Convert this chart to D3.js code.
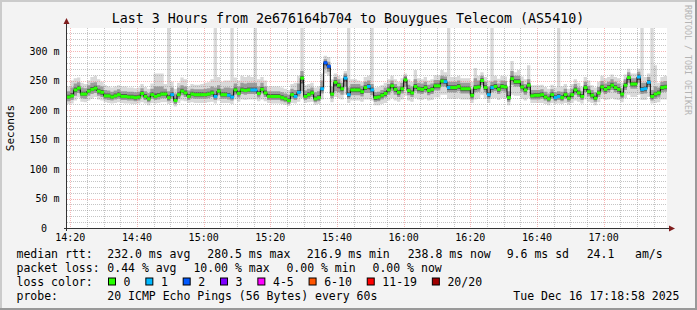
<!DOCTYPE html>
<html>
<head>
<meta charset="utf-8">
<script src="https://cdn.jsdelivr.net/npm/d3@7"></script>
<style>
body { margin: 0; background: #fff; }
text { font-family: "DejaVu Sans Mono", monospace; }
</style>
</head>
<body>
<script>
var width = 697, height = 310;

// one sample per minute, 14:19 .. 17:19
var startTime = new Date(2025, 11, 16, 14, 19, 0);
var median = [222,224,234,237,227,227,232,235,237,232,
 230,224,224,222,224,226,223,223,222,222,
 221,222,228,223,219,226,223,225,227,227,
 221,226,216,226,232,229,223,227,226,226,
 226,226,227,229,223,232,226,226,225,222,
 234,228,234,233,234,234,234,228,235,229,
 223,223,223,223,221,219,216,226,223,230,
 254,223,226,229,219,221,236,280,274,227,
 247,242,236,254,226,234,234,234,231,238,
 240,234,221,222,225,228,234,241,235,230,
 236,251,233,229,240,236,235,238,233,235,
 241,241,249,248,238,238,238,240,236,236,
 236,225,238,239,250,238,226,238,240,235,
 240,239,221,253,248,248,239,234,242,224,
 225,225,226,222,219,226,221,223,221,226,
 220,226,234,229,223,238,231,225,220,229,
 239,235,238,242,238,235,227,242,255,244,
 244,256,235,236,247,223,227,229,238,239];
var loss = [0,0,0,0,0,0,0,0,0,0,
 0,0,0,0,0,0,0,0,0,0,
 0,0,0,0,0,0,0,0,0,0,
 0,1,0,0,0,0,0,0,0,0,
 0,0,0,0,1,0,0,0,1,1,
 0,0,0,0,0,1,1,0,0,0,
 0,0,0,0,0,0,0,0,1,1,
 0,0,0,0,0,0,1,2,2,0,
 0,0,0,1,1,0,0,0,0,0,
 1,1,0,0,0,0,0,0,0,0,
 0,0,0,0,0,0,0,0,0,0,
 0,0,0,1,1,0,0,0,0,0,
 0,0,0,0,0,0,1,1,0,0,
 0,0,0,0,0,0,0,0,0,0,
 0,0,0,0,0,0,1,1,0,0,
 0,0,0,0,0,0,0,0,0,0,
 0,0,0,0,0,0,0,0,0,0,
 0,1,1,1,1,0,0,0,0,0];
var pingMin = [210,211,216,221,214,213,216,219,222,218,
 216,213,212,211,212,213,212,211,211,210,
 210,211,213,211,208,212,211,212,213,213,
 210,212,206,212,216,215,212,213,212,212,
 212,212,213,214,211,216,212,212,212,210,
 218,214,218,217,218,218,218,215,218,215,
 212,211,211,211,210,209,207,212,211,214,
 220,212,213,214,209,210,218,262,258,213,
 222,220,218,226,212,216,216,216,214,218,
 218,216,208,208,210,212,216,220,216,214,
 218,224,216,214,220,218,217,219,216,217,
 221,221,226,226,219,219,219,220,218,218,
 218,212,218,219,226,219,212,219,220,217,
 220,219,208,226,224,224,219,216,220,212,
 212,212,212,210,208,212,210,211,210,212,
 209,212,216,214,211,218,214,212,208,213,
 219,217,218,220,218,217,213,220,226,222,
 222,226,217,217,222,211,212,213,218,218];
var pingP10 = [215,217,224,229,220,219,224,227,229,224,
 222,218,217,216,218,219,217,217,216,216,
 215,216,221,217,213,219,217,218,220,220,
 215,219,210,219,225,222,217,220,219,219,
 219,219,220,222,217,225,219,219,218,216,
 226,221,227,226,227,227,227,221,228,222,
 217,217,217,217,215,213,210,219,217,223,
 232,217,219,222,213,215,228,270,265,220,
 232,230,226,240,219,225,225,225,223,229,
 229,225,214,215,218,221,226,232,226,222,
 228,240,225,222,232,228,227,230,225,227,
 233,233,240,240,230,230,230,232,228,228,
 228,218,230,231,242,230,219,230,232,227,
 232,231,214,243,240,240,231,226,234,218,
 218,218,219,216,213,219,215,217,215,219,
 214,219,226,222,217,230,223,218,214,222,
 231,227,230,234,230,227,220,234,246,236,
 236,246,227,228,239,216,219,221,230,231];
var pingP25 = [219,221,230,233,224,224,229,232,233,228,
 226,221,221,219,221,223,220,220,219,219,
 218,219,225,220,216,223,220,222,224,224,
 218,223,213,223,229,226,220,224,223,223,
 223,223,224,226,220,229,223,223,222,219,
 230,225,231,230,231,231,231,225,232,226,
 220,220,220,220,218,216,213,223,220,227,
 245,220,223,226,216,218,232,276,270,224,
 240,237,232,248,222,230,230,230,227,234,
 235,230,217,218,221,224,230,237,231,226,
 232,246,229,226,236,232,231,234,229,231,
 237,237,245,244,234,234,234,236,232,232,
 232,221,234,235,246,234,222,234,236,231,
 236,235,217,249,244,244,235,230,238,221,
 221,221,222,219,216,222,218,220,218,222,
 217,222,230,226,220,234,227,221,217,226,
 235,231,234,238,234,231,223,238,251,240,
 240,251,231,232,243,219,223,225,234,235];
var pingP75 = [226,229,238,241,231,231,236,239,241,236,
 234,228,228,226,228,230,227,227,226,226,
 225,226,232,227,223,230,228,229,231,231,
 225,230,220,230,236,233,227,231,230,230,
 230,230,231,233,227,236,230,230,229,226,
 238,232,238,237,238,238,238,232,239,233,
 227,227,227,227,225,223,220,230,227,234,
 258,227,230,233,223,225,240,283,277,231,
 251,246,240,258,230,238,238,238,235,242,
 244,238,225,226,229,232,238,245,239,234,
 240,255,237,233,244,240,239,242,237,239,
 245,245,253,252,242,242,242,244,240,240,
 240,229,242,243,254,242,230,242,244,239,
 244,243,225,258,252,252,243,238,246,228,
 229,229,230,226,223,230,225,227,225,230,
 224,230,238,233,227,242,235,229,224,233,
 243,239,242,246,242,239,231,246,259,248,
 248,260,239,240,251,227,231,233,242,243];
var pingP90 = [232,238,245,247,238,237,242,246,247,242,
 240,234,233,231,233,235,232,232,231,231,
 230,231,237,232,229,236,240,240,240,236,
 232,238,228,238,242,240,233,236,235,235,
 235,236,237,240,238,242,236,238,238,237,
 245,240,246,245,246,246,246,240,246,240,
 232,232,232,232,230,228,226,236,234,245,
 266,233,236,238,230,232,250,286,282,240,
 256,252,246,262,238,244,244,244,241,248,
 250,244,230,231,234,238,244,250,244,240,
 246,258,243,240,252,246,245,248,243,245,
 251,251,258,257,248,248,248,250,246,246,
 246,236,254,250,258,248,240,248,250,245,
 250,249,232,266,258,258,249,244,252,234,
 234,234,235,231,228,235,230,232,231,236,
 229,236,244,238,232,248,241,234,230,239,
 249,245,248,252,248,245,237,252,264,254,
 254,265,246,246,256,234,240,238,248,249];
var pingMax = [240,250,254,255,246,244,250,256,258,252,
 248,242,240,238,240,242,240,240,238,238,
 237,238,244,239,236,245,262,262,262,244,
 345,248,236,246,255,252,240,244,243,243,
 244,246,247,252,345,256,248,250,250,345,
 255,250,258,256,258,256,345,252,256,250,
 240,240,240,240,238,236,234,244,246,258,
 345,242,244,246,238,240,262,292,290,252,
 262,258,254,266,345,252,252,250,248,256,
 258,345,238,239,242,246,252,258,252,248,
 254,262,252,248,268,254,252,256,250,252,
 259,259,268,264,345,256,256,258,254,254,
 254,248,271,258,264,256,250,345,258,253,
 258,257,240,283,264,268,257,252,276,242,
 242,242,243,239,236,243,238,345,240,244,
 236,244,252,246,240,256,250,242,238,248,
 258,254,256,260,256,254,246,260,270,262,
 262,270,345,256,262,345,276,246,256,258];

var yTicks = [0, 50, 100, 150, 200, 250, 300];
var xTickLabels = ["14:20","14:40","15:00","15:20","15:40","16:00","16:20","16:40","17:00"];
var lossLabels = ["0","1","2","3","4-5","6-10","11-19","20/20"];
var lossColors = ["#26ff00","#00b8ff","#0059ff","#7e00ff","#ff00ff","#ff5500","#ff0000","#a00000"];
var rttStats = ["232.0 ms avg","280.5 ms max","216.9 ms min","238.8 ms now","9.6 ms sd","24.1","am/s"];
var lossStats = ["0.44 % avg","10.00 % max","0.00 % min","0.00 % now"];
var title = "Last 3 Hours from 2e676164b704 to Bouygues Telecom (AS5410)";
var probeText = "20 ICMP Echo Pings (56 Bytes) every 60s";
var dateText = "Tue Dec 16 17:18:58 2025";

var plotL = 67, plotR = 667, plotT = 28, plotB = 228;
var n = median.length;
var endTime = d3.timeMinute.offset(startTime, n);
var timeOf = function(i){ return d3.timeMinute.offset(startTime, i); };

var x = d3.scaleTime().domain([startTime, endTime]).range([plotL, plotR]);
var y = d3.scaleLinear().domain([0, 339]).range([plotB, plotT]);

var svg = d3.select("body").append("svg")
    .attr("width", width).attr("height", height);

// background + 3d border
svg.append("rect").attr("width", width).attr("height", height).attr("fill", "#f3f3f3");
svg.append("path").attr("d", "M0,0H697V2H2V310H0Z").attr("fill", "#cbcbcb");
svg.append("path").attr("d", "M697,0V310H0V308H695V0Z").attr("fill", "#999999");
svg.append("rect").attr("x", plotL).attr("y", plotT).attr("width", plotR - plotL).attr("height", plotB - plotT).attr("fill", "#fff");

svg.append("clipPath").attr("id", "plot").append("rect")
    .attr("x", plotL).attr("y", plotT).attr("width", plotR - plotL).attr("height", plotB - plotT);

var g = svg.append("g").attr("clip-path", "url(#plot)");

// step index list, last step closed at the end time
var steps = d3.range(n + 1);
function band(lo, hi) {
  return d3.area().curve(d3.curveStepAfter)
    .x(function(i){ return x(timeOf(i)); })
    .y0(function(i){ return y(lo[Math.min(i, n - 1)]); })
    .y1(function(i){ return y(hi[Math.min(i, n - 1)]); });
}
g.append("path").attr("d", band(pingMin, pingMax)(steps)).attr("fill", "#d9d9d9");
g.append("path").attr("d", band(pingP10, pingP90)(steps)).attr("fill", "#9c9c9c");
g.append("path").attr("d", band(pingP25, pingP75)(steps)).attr("fill", "#555555");

// grid (dotted, drawn over the smoke)
var minorV = d3.timeMinute.every(5).range(startTime, endTime);
var minorH = d3.range(10, 340, 10);
g.selectAll(".gv").data(minorV).enter().append("line")
    .attr("x1", function(d){ return Math.round(x(d)) + 0.5; })
    .attr("x2", function(d){ return Math.round(x(d)) + 0.5; })
    .attr("y1", plotT).attr("y2", plotB)
    .attr("stroke", function(d){ return d.getMinutes() % 20 === 0 ? "rgba(240,110,110,0.5)" : "rgba(140,140,140,0.5)"; })
    .attr("stroke-dasharray", "1,1");
g.selectAll(".gh").data(minorH).enter().append("line")
    .attr("x1", plotL).attr("x2", plotR)
    .attr("y1", function(d){ return Math.round(y(d)) + 0.5; })
    .attr("y2", function(d){ return Math.round(y(d)) + 0.5; })
    .attr("stroke", function(d){ return d % 50 === 0 ? "rgba(240,110,110,0.5)" : "rgba(140,140,140,0.5)"; })
    .attr("stroke-dasharray", "1,1");

// median line and loss coloured marks
var line = d3.line().curve(d3.curveStepAfter)
    .x(function(i){ return x(timeOf(i)); })
    .y(function(i){ return y(median[Math.min(i, n - 1)]); });
g.append("path").attr("d", line(steps)).attr("fill", "none").attr("stroke", "#000").attr("stroke-width", 1);
g.selectAll(".med").data(median).enter().append("rect")
    .attr("x", function(d, i){ return x(timeOf(i)); })
    .attr("width", function(d, i){ return x(timeOf(i + 1)) - x(timeOf(i)) + 0.4; })
    .attr("y", function(d){ return y(d) - 1.5; })
    .attr("height", 3)
    .attr("fill", function(d, i){ return lossColors[loss[i]]; });

// axes
svg.append("line").attr("x1", plotL - 0.5).attr("x2", plotL - 0.5).attr("y1", plotB + 3).attr("y2", 22).attr("stroke", "#333");
svg.append("line").attr("x1", plotL - 3).attr("x2", 670).attr("y1", plotB + 0.5).attr("y2", plotB + 0.5).attr("stroke", "#333");
svg.append("path").attr("d", "M63.5,24L66.5,18L69.5,24Z").attr("fill", "#7f1d1d");
svg.append("path").attr("d", "M669,225.5L675,228.5L669,231.5Z").attr("fill", "#7f1d1d");

svg.selectAll(".yl").data(yTicks).enter().append("text")
    .attr("x", function(d){ return d === 0 ? 47 : 59.5; })
    .attr("y", function(d){ return y(d) + 3.5; })
    .attr("text-anchor", "end").attr("font-size", "10px")
    .text(function(d){ return d === 0 ? "0" : d + " m"; });

var xTickTimes = d3.timeMinute.every(20).range(startTime, endTime);
svg.selectAll(".xl").data(xTickLabels).enter().append("text")
    .attr("x", function(d, i){ return x(xTickTimes[i]); })
    .attr("y", 241)
    .attr("text-anchor", "middle").attr("font-size", "10px")
    .text(function(d){ return d; });

// title, unit, watermark
svg.append("text").attr("x", 348).attr("y", 23).attr("text-anchor", "middle")
    .attr("font-size", "13.3px").text(title);
svg.append("text").attr("transform", "translate(14,128) rotate(-90)").attr("text-anchor", "middle")
    .attr("font-size", "11px").text("Seconds");
svg.append("text").attr("transform", "translate(685,5) rotate(90)")
    .attr("font-size", "8.3px").attr("fill", "#b4b4b4").text("RRDTOOL / TOBI OETIKER");

// legend
var fs = "11.5px";
var rttX = [107.3, 207.3, 306.7, 407.7, 506.7, 586.7, 635];
var lossX = [107.3, 193.4, 286.4, 372.5];
var rows = [257.5, 271.5, 285.5, 299.5];
var leg = svg.append("g").attr("font-size", fs);
leg.append("text").attr("x", 16.5).attr("y", rows[0]).text("median rtt:");
leg.selectAll(".r").data(rttStats).enter().append("text")
    .attr("x", function(d, i){ return rttX[i]; }).attr("y", rows[0]).text(function(d){ return d; });
leg.append("text").attr("x", 16.5).attr("y", rows[1]).text("packet loss:");
leg.selectAll(".p").data(lossStats).enter().append("text")
    .attr("x", function(d, i){ return lossX[i]; }).attr("y", rows[1]).text(function(d){ return d; });
leg.append("text").attr("x", 16.5).attr("y", rows[2]).text("loss color:");
var cx = 108;
lossLabels.forEach(function(lab, i) {
  leg.append("rect").attr("x", cx + 0.5).attr("y", rows[2] - 7.5).attr("width", 7).attr("height", 7)
      .attr("fill", lossColors[i]).attr("stroke", "#000");
  leg.append("text").attr("x", cx + 15.6).attr("y", rows[2]).text(lab);
  cx = cx + 15.6 + lab.length * 6.94 + 14.8;
});
leg.append("text").attr("x", 16.5).attr("y", rows[3]).text("probe:");
leg.append("text").attr("x", 107.3).attr("y", rows[3]).text(probeText);
leg.append("text").attr("x", 513.3).attr("y", rows[3]).text(dateText);
</script>
</body>
</html>
